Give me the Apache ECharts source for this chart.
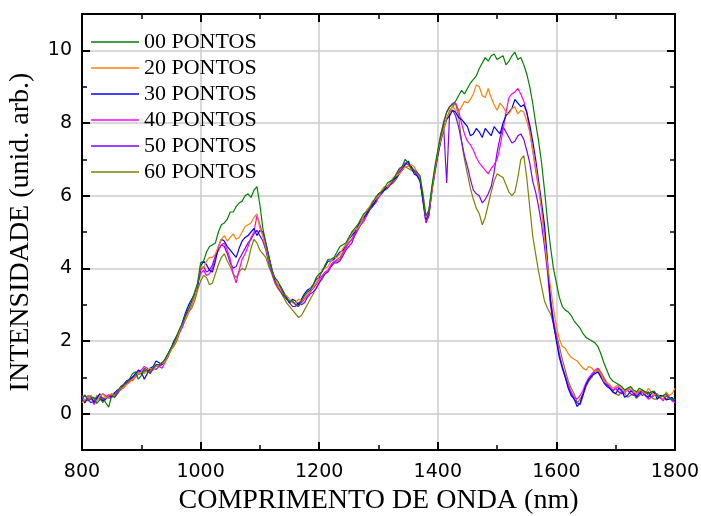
<!DOCTYPE html>
<html>
<head>
<meta charset="utf-8">
<script src="https://cdn.jsdelivr.net/npm/echarts@6/dist/echarts.min.js"></script>
<style>
html,body{margin:0;padding:0;background:#fff;}
#chart{width:701px;height:516px;}
</style>
</head>
<body>
<div id="chart"></div>
<script>
// sampling grid (nm); each series also has a value read halfway between grid points (+5 nm)
const wavelength = [800,810,820,830,840,850,860,870,880,890,900,910,920,930,940,950,960,970,980,990,
1000,1010,1020,1030,1040,1050,1060,1070,1080,1090,1100,1110,1120,1130,1140,1150,1160,1170,1180,1190,
1200,1210,1220,1230,1240,1250,1260,1270,1280,1290,1300,1310,1320,1330,1340,1350,1360,1370,1380,1390,
1400,1410,1420,1430,1440,1450,1460,1470,1480,1490,1500,1510,1520,1530,1540,1550,1560,1570,1580,1590,
1600,1610,1620,1630,1640,1650,1660,1670,1680,1690,1700,1710,1720,1730,1740,1750,1760,1770,1780,1790,1800];

const seriesNames = ['00 PONTOS','20 PONTOS','30 PONTOS','40 PONTOS','50 PONTOS','60 PONTOS'];
const seriesColors = ['#008000','#ff8000','#0000ff','#ff00ff','#8000ff','#808000'];

const p00 = [0.42,0.35,0.45,0.38,0.30,0.50,0.60,0.80,0.95,1.15,1.05,1.20,1.25,1.35,1.50,1.80,2.15,2.50,2.90,3.35,
4.15,4.45,4.65,5.00,5.25,5.55,5.70,5.85,6.05,6.15,5.75,4.70,3.95,3.65,3.30,3.10,3.00,3.10,3.35,3.55,
3.85,4.10,4.25,4.45,4.65,4.85,5.10,5.35,5.55,5.80,6.05,6.20,6.40,6.60,6.80,6.90,6.70,6.55,5.45,6.25,
7.25,8.00,8.45,8.60,8.90,8.95,9.20,9.50,9.80,9.85,9.75,9.85,9.70,9.95,9.80,9.35,8.55,7.50,6.15,4.60,
3.60,2.95,2.80,2.55,2.35,2.10,2.00,1.85,1.40,1.00,0.85,0.75,0.70,0.65,0.70,0.60,0.60,0.50,0.50,0.45,0.40];
const m00 = [0.52,0.40,0.28,0.45,0.18,0.45,0.75,0.85,1.10,0.95,
1.25,1.10,1.35,1.40,1.65,1.95,2.35,2.75,3.10,3.60,
4.20,4.60,4.70,5.20,5.35,5.55,5.80,6.00,5.95,6.25,
5.10,4.30,3.75,3.50,3.15,3.10,2.95,3.25,3.40,3.75,
3.90,4.25,4.30,4.60,4.70,5.00,5.20,5.50,5.65,5.95,
6.10,6.35,6.45,6.75,7.00,6.75,6.65,6.00,5.60,6.80,
7.70,8.30,8.50,8.75,8.80,9.10,9.30,9.65,9.70,9.90,
9.80,9.60,9.85,9.75,9.60,9.00,8.00,6.90,5.30,4.00,
3.20,2.85,2.70,2.45,2.20,2.05,1.95,1.65,1.20,0.90,
0.80,0.65,0.75,0.60,0.65,0.55,0.62,0.45,0.55,0.38];

const p20 = [0.30,0.45,0.40,0.48,0.42,0.55,0.60,0.72,0.85,1.00,1.15,1.20,1.22,1.35,1.45,1.75,2.05,2.50,2.80,3.20,
4.05,4.20,4.30,4.60,4.90,4.85,4.80,5.00,5.20,5.40,5.10,4.60,3.95,3.55,3.30,3.15,3.05,3.10,3.30,3.50,
3.80,4.00,4.20,4.30,4.55,4.80,5.05,5.25,5.60,5.85,6.00,6.25,6.35,6.55,6.70,6.80,6.80,6.50,5.40,6.15,
7.20,7.85,8.30,8.35,8.45,8.55,8.80,9.00,8.70,8.70,8.35,8.45,8.25,8.45,8.35,8.05,7.25,6.25,4.80,3.50,
2.40,1.85,1.65,1.50,1.35,1.20,1.25,1.20,0.90,0.80,0.75,0.70,0.65,0.60,0.65,0.55,0.60,0.55,0.40,0.50,0.70];
const m20 = [0.38,0.50,0.35,0.55,0.50,0.48,0.70,0.80,0.95,1.10,
1.10,1.25,1.30,1.38,1.60,1.90,2.30,2.62,3.05,3.60,
4.00,4.30,4.40,4.80,4.75,4.95,4.85,5.15,5.25,5.50,
4.90,4.25,3.75,3.40,3.25,3.05,3.15,3.20,3.45,3.60,
3.95,4.05,4.30,4.40,4.65,4.95,5.10,5.45,5.70,5.90,
6.15,6.25,6.50,6.60,6.80,6.85,6.65,6.10,5.60,6.70,
7.55,8.15,8.45,8.30,8.60,8.65,9.05,8.75,8.95,8.50,
8.55,8.30,8.40,8.25,8.30,7.75,6.80,5.60,4.10,2.90,
2.05,1.80,1.55,1.45,1.25,1.30,1.15,1.10,0.85,0.70,
0.80,0.62,0.72,0.55,0.62,0.70,0.50,0.45,0.60,0.55];

const p30 = [0.40,0.45,0.30,0.55,0.40,0.45,0.65,0.80,0.95,1.10,1.15,1.10,1.30,1.40,1.50,1.80,2.15,2.55,3.00,3.30,
4.05,4.10,3.90,4.60,4.75,4.50,4.30,4.75,4.90,5.10,5.05,4.70,4.00,3.55,3.35,3.05,3.10,3.15,3.40,3.55,
3.75,4.05,4.20,4.35,4.50,4.80,5.00,5.30,5.50,5.75,6.05,6.15,6.35,6.50,6.70,6.95,6.60,6.40,5.35,6.20,
7.15,7.90,8.20,8.30,8.10,7.90,7.70,7.75,7.85,7.65,7.80,8.00,8.30,8.65,8.45,8.30,7.50,6.40,5.20,3.10,
2.00,1.25,0.70,0.40,0.30,0.80,1.05,1.15,0.85,0.70,0.55,0.65,0.50,0.60,0.55,0.50,0.55,0.40,0.50,0.40,0.35];
const m30 = [0.30,0.50,0.42,0.35,0.50,0.58,0.70,0.90,1.00,1.20,
0.95,1.25,1.45,1.35,1.65,2.00,2.30,2.80,3.15,3.50,
4.20,3.95,4.20,4.80,4.60,4.40,4.55,4.85,5.00,4.90,
5.00,4.35,3.70,3.50,3.20,3.15,3.00,3.30,3.45,3.70,
3.95,4.20,4.25,4.45,4.65,4.90,5.15,5.40,5.65,5.85,
6.10,6.25,6.45,6.60,6.85,6.80,6.55,5.90,5.55,6.70,
7.55,8.10,8.35,8.15,8.00,7.65,7.85,7.60,7.75,7.90,
7.70,8.20,8.40,8.55,8.50,7.95,7.00,5.80,4.20,2.50,
1.55,1.00,0.50,0.20,0.55,0.95,1.10,1.00,0.75,0.60,
0.70,0.45,0.62,0.45,0.65,0.45,0.60,0.50,0.38,0.45];

const p40 = [0.50,0.40,0.25,0.45,0.50,0.45,0.60,0.75,0.90,1.05,1.20,1.25,1.20,1.30,1.40,1.75,2.10,2.40,2.80,3.25,
3.85,3.80,4.00,4.50,4.70,4.25,3.60,4.25,4.60,5.00,5.20,4.55,3.90,3.50,3.30,3.10,3.00,3.05,3.25,3.45,
3.70,3.90,4.10,4.20,4.40,4.70,4.95,5.20,5.50,5.75,5.95,6.20,6.35,6.55,6.80,6.85,6.70,6.45,5.30,6.10,
7.20,8.05,8.45,8.55,8.00,7.50,7.25,6.90,6.70,6.75,7.00,7.80,8.70,8.85,8.80,8.30,7.25,6.20,5.00,3.20,
2.10,1.30,0.80,0.45,0.50,0.85,1.10,1.25,0.95,0.75,0.70,0.60,0.70,0.55,0.60,0.50,0.45,0.55,0.35,0.45,0.30];
const m40 = [0.35,0.45,0.38,0.55,0.42,0.55,0.65,0.85,0.95,1.15,
1.30,1.15,1.35,1.25,1.60,1.90,2.25,2.65,3.00,3.55,
3.95,3.85,4.30,4.65,4.50,3.85,3.95,4.40,4.85,5.45,
4.90,4.20,3.65,3.45,3.15,3.10,2.95,3.15,3.35,3.55,
3.80,3.95,4.20,4.25,4.55,4.80,5.10,5.30,5.65,5.80,
6.10,6.25,6.45,6.70,6.90,6.75,6.60,5.90,5.50,6.70,
7.65,8.30,8.55,8.35,7.70,7.40,7.05,6.80,6.60,6.85,
7.35,8.30,8.80,8.95,8.60,7.80,6.70,5.65,4.10,2.60,
1.65,1.05,0.60,0.40,0.65,1.00,1.20,1.10,0.85,0.65,
0.75,0.55,0.65,0.50,0.60,0.40,0.55,0.45,0.50,0.35];

const p50 = [0.45,0.40,0.35,0.40,0.45,0.50,0.55,0.75,0.90,1.05,1.15,1.15,1.25,1.30,1.45,1.80,2.05,2.50,2.85,3.20,
3.95,3.90,4.10,4.50,4.60,4.15,4.05,4.40,4.70,4.95,4.90,4.50,3.90,3.50,3.25,3.05,2.95,3.00,3.20,3.35,
3.60,3.85,4.05,4.15,4.35,4.60,4.90,5.20,5.45,5.70,5.95,6.15,6.30,6.50,6.75,6.85,6.70,6.45,5.25,6.15,
7.10,7.85,8.30,8.20,7.50,6.80,6.15,6.00,5.90,6.25,7.20,7.90,7.60,7.50,7.70,7.25,6.40,5.70,4.60,3.00,
2.05,1.30,0.75,0.40,0.25,0.80,1.05,1.20,0.90,0.70,0.70,0.55,0.65,0.50,0.60,0.55,0.45,0.50,0.40,0.45,0.35];
const m50 = [0.50,0.30,0.45,0.35,0.52,0.45,0.68,0.82,1.00,1.10,
1.20,1.20,1.22,1.40,1.60,1.90,2.30,2.70,3.05,3.55,
4.05,3.95,4.35,4.65,4.40,4.00,4.25,4.55,4.80,5.05,
4.75,4.15,3.70,3.35,3.15,2.95,3.05,3.05,3.30,3.45,
3.75,3.90,4.15,4.20,4.50,4.70,5.05,5.30,5.60,5.80,
6.05,6.20,6.40,6.65,6.90,6.80,6.55,5.85,5.45,6.65,
7.50,6.35,8.35,7.90,7.10,6.45,6.05,5.80,6.05,6.65,
7.60,7.75,7.45,7.65,7.55,6.90,6.10,5.20,3.90,2.45,
1.60,1.00,0.55,0.30,0.50,0.95,1.15,1.05,0.80,0.62,
0.60,0.62,0.55,0.58,0.50,0.60,0.50,0.42,0.48,0.38];

const p60 = [0.40,0.50,0.35,0.45,0.40,0.55,0.60,0.70,0.95,1.00,1.10,1.20,1.25,1.30,1.45,1.75,2.00,2.45,2.80,3.10,
3.65,3.75,3.60,4.10,4.40,4.05,3.75,4.00,4.20,4.80,4.50,4.30,3.85,3.45,3.20,2.95,2.75,2.70,3.00,3.30,
3.60,3.85,4.05,4.25,4.45,4.70,4.95,5.25,5.50,5.70,6.00,6.15,6.30,6.45,6.70,6.75,6.65,6.50,5.30,6.10,
7.10,7.80,8.35,8.55,7.50,6.60,5.90,5.50,5.40,6.10,6.60,6.50,6.10,6.10,7.00,6.50,4.90,3.90,3.10,2.75,
2.20,1.50,0.90,0.55,0.40,0.75,1.00,1.25,1.00,0.70,0.55,0.60,0.45,0.55,0.50,0.60,0.45,0.40,0.50,0.45,0.35];
const m60 = [0.30,0.45,0.50,0.30,0.48,0.50,0.68,0.80,0.90,1.08,
1.15,1.12,1.32,1.35,1.55,1.85,2.25,2.60,2.90,3.40,
3.80,3.55,3.85,4.30,4.20,3.85,3.90,3.95,4.55,4.70,
4.40,4.05,3.60,3.35,3.05,2.85,2.65,2.85,3.15,3.45,
3.70,3.95,4.15,4.30,4.60,4.80,5.10,5.35,5.65,5.85,
6.05,6.25,6.35,6.60,6.80,6.70,6.60,5.85,5.45,6.60,
7.50,8.10,8.45,8.20,7.00,6.20,5.65,5.20,5.75,6.40,
6.55,6.30,6.00,6.50,7.10,5.70,4.40,3.50,2.90,2.50,
1.85,1.20,0.70,0.30,0.55,0.90,1.15,1.15,0.85,0.60,
0.50,0.55,0.50,0.42,0.58,0.50,0.40,0.48,0.40,0.38];

const seriesValues = [p00,p20,p30,p40,p50,p60];
const seriesMid = [m00,m20,m30,m40,m50,m60];

const yMajorTicks = [0,2,4,6,8,10];
const yMinorTicks = [-1,1,3,5,7,9,11];

const chart = echarts.init(document.getElementById('chart'));
const sansFont = 'DejaVu Sans, sans-serif';
const serifFont = 'Liberation Serif, Times New Roman, serif';

function pairs(vals, mids){
  const out = [];
  wavelength.forEach((w,i)=>{
    out.push([w, vals[i]]);
    if (i < mids.length) out.push([w + 5, mids[i]]);
  });
  return out;
}

const black = '#000';
function xAx(pos, interval, len, extra){
  return Object.assign({type:'value', min:800, max:1800, interval:interval, position:pos,
    axisLine:{show:len===8, onZero:false, lineStyle:{color:black, width:2}},
    axisTick:{show:true, inside:true, length:len, lineStyle:{color:black, width:len===8?2:1.5}},
    axisLabel:{show:false}, splitLine:{show:false}}, extra||{});
}
function yAx(pos, ticks, len, extra){
  return Object.assign({type:'value', min:-1, max:11, position:pos,
    axisLine:{show:len===8, onZero:false, lineStyle:{color:black, width:2}},
    axisTick:{show:true, inside:true, length:len, customValues:ticks, lineStyle:{color:black, width:len===8?2:1.5}},
    axisLabel:{show:false}, splitLine:{show:false}}, extra||{});
}

const option = {
  backgroundColor:'#fff',
  animation:false,
  grid:{left:82, right:26, top:14, bottom:66, show:false, containLabel:false, outerBoundsMode:'none'},
  legend:{
    show:true, orient:'vertical', left:86, top:26,
    itemWidth:48, itemHeight:14, itemGap:4,
    icon:'path://M0,0 L48,0 L48,1.5 L0,1.5 Z',
    textStyle:{fontFamily:serifFont, fontSize:22, lineHeight:20, color:'#000'},
    data: seriesNames
  },
  xAxis:[
    xAx('bottom', 200, 8, {
      name:'COMPRIMENTO DE ONDA (nm)', nameLocation:'middle', nameGap:25,
      nameTextStyle:{fontFamily:serifFont, fontSize:28, color:'#000'},
      axisLabel:{show:true, fontFamily:sansFont, fontSize:19, color:'#000', margin:13, formatter:v=>String(v)},
      splitLine:{show:true, lineStyle:{color:'#cccccc', width:1.5}}}),
    xAx('bottom', 100, 5),
    xAx('top', 200, 8),
    xAx('top', 100, 5)
  ],
  yAxis:[
    yAx('left', yMajorTicks, 8, {
      name:'INTENSIDADE (unid. arb.)', nameLocation:'middle', nameGap:47, nameRotate:90,
      nameTextStyle:{fontFamily:serifFont, fontSize:28, color:'#000'},
      axisLabel:{show:true, fontFamily:sansFont, fontSize:19, color:'#000', margin:10, customValues:yMajorTicks},
      splitLine:{show:true, lineStyle:{color:'#cccccc', width:1.5}}}),
    yAx('left', yMinorTicks, 5),
    yAx('right', yMajorTicks, 8),
    yAx('right', yMinorTicks, 5)
  ],
  series: seriesNames.map((n,i)=>({
    name:n, type:'line', xAxisIndex:0, yAxisIndex:0,
    data:pairs(seriesValues[i], seriesMid[i]), symbol:'none', smooth:false,
    lineStyle:{color:seriesColors[i], width:1.2}, itemStyle:{color:seriesColors[i]},
    z: 10 - i
  }))
};
chart.setOption(option);
</script>
</body>
</html>
